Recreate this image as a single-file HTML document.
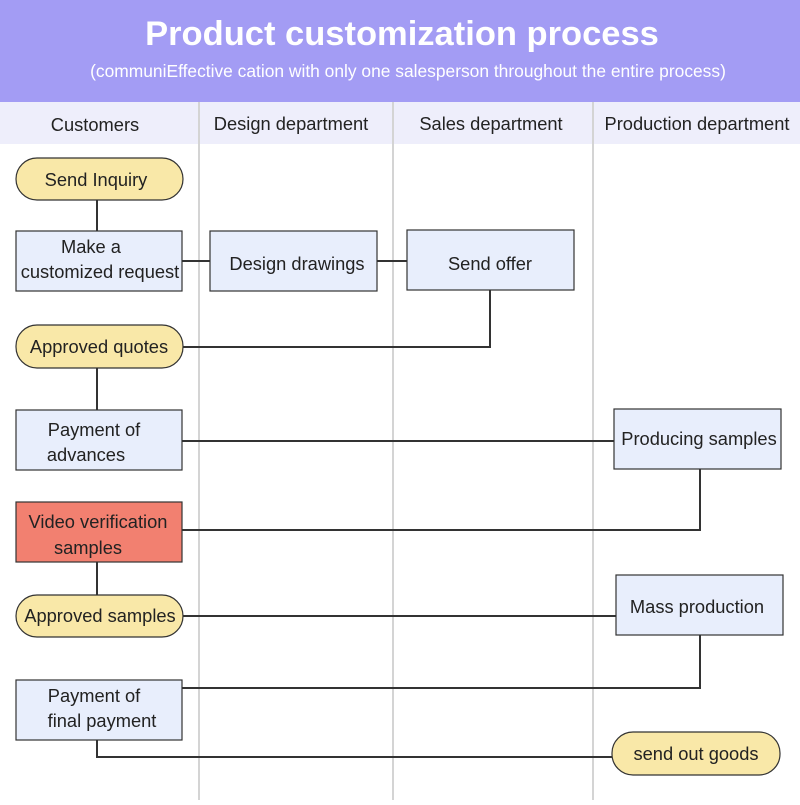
<!DOCTYPE html>
<html><head><style>body{margin:0;width:800px;height:800px;overflow:hidden;background:#fff}</style></head><body>
<svg width="800" height="800" xmlns="http://www.w3.org/2000/svg" font-family="Liberation Sans, sans-serif">
<rect x="0" y="0" width="800" height="102" fill="#a39cf4"/>
<text x="402" y="45" text-anchor="middle" font-size="34.5" font-weight="bold" fill="#fff">Product customization process</text>
<text x="408" y="77" text-anchor="middle" font-size="17.4" fill="#fff">(communiEffective cation with only one salesperson throughout the entire process)</text>
<rect x="0" y="102" width="800" height="42" fill="#eeeefb"/>
<g stroke="#d4d4d4" stroke-width="2"><line x1="199" y1="102" x2="199" y2="800"/><line x1="393" y1="102" x2="393" y2="800"/><line x1="593" y1="102" x2="593" y2="800"/></g>
<g font-size="18.3" fill="#222" text-anchor="middle">
<text x="95" y="131">Customers</text><text x="291" y="130">Design department</text><text x="491" y="130">Sales department</text><text x="697" y="130">Production department</text></g>
<g stroke="#333" stroke-width="2" fill="none">
<path d="M97 200V231M182 261H210M377 261H407M490 290V347H183M97 368V410M182 441H614M700 469V530H182M97 562V595M183 616H616M700 635V688H182M97 740V757H612"/>
</g>
<g stroke="#333" stroke-width="1.2">
<rect x="16" y="158" width="167" height="42" rx="21" fill="#f9e8a8"/>
<rect x="16" y="231" width="166" height="60" fill="#e8eefc"/>
<rect x="210" y="231" width="167" height="60" fill="#e8eefc"/>
<rect x="407" y="230" width="167" height="60" fill="#e8eefc"/>
<rect x="16" y="325" width="167" height="43" rx="21" fill="#f9e8a8"/>
<rect x="16" y="410" width="166" height="60" fill="#e8eefc"/>
<rect x="614" y="409" width="167" height="60" fill="#e8eefc"/>
<rect x="16" y="502" width="166" height="60" fill="#f28070"/>
<rect x="16" y="595" width="167" height="42" rx="21" fill="#f9e8a8"/>
<rect x="616" y="575" width="167" height="60" fill="#e8eefc"/>
<rect x="16" y="680" width="166" height="60" fill="#e8eefc"/>
<rect x="612" y="732" width="168" height="43" rx="21" fill="#f9e8a8"/>
</g>
<g font-size="18.3" fill="#222" text-anchor="middle">
<text x="96" y="186">Send Inquiry</text>
<text x="91" y="253">Make a</text><text x="100" y="278">customized request</text>
<text x="297" y="270">Design drawings</text>
<text x="490" y="270">Send offer</text>
<text x="99" y="353">Approved quotes</text>
<text x="94" y="436">Payment of</text><text x="86" y="461">advances</text>
<text x="699" y="445">Producing samples</text>
<text x="98" y="528">Video verification</text><text x="88" y="554">samples</text>
<text x="100" y="622">Approved samples</text>
<text x="697" y="613">Mass production</text>
<text x="94" y="702">Payment of</text><text x="102" y="727">final payment</text>
<text x="696" y="760">send out goods</text>
</g>
</svg>
</body></html>
